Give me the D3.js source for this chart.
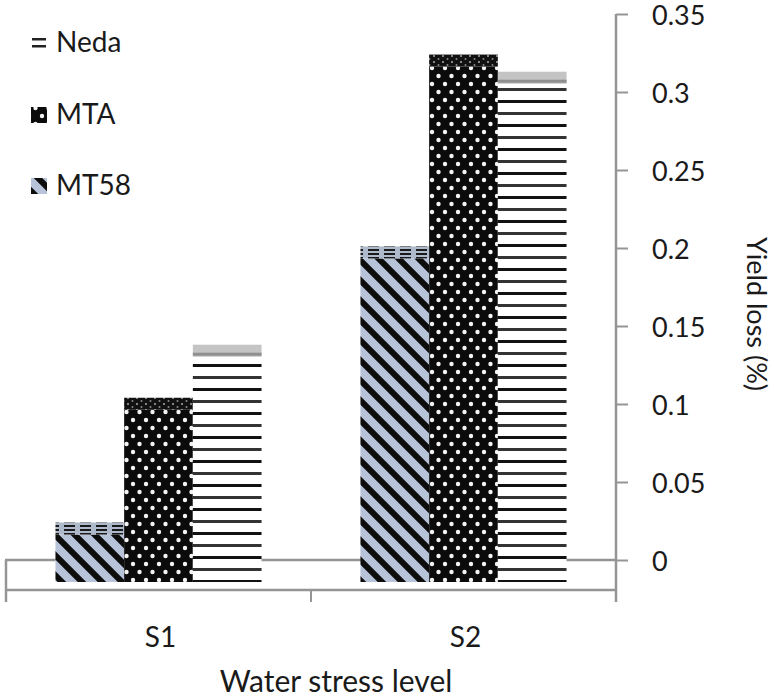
<!DOCTYPE html>
<html>
<head>
<meta charset="utf-8">
<script src="https://cdn.jsdelivr.net/npm/d3@7"></script>
<style>
  html, body { margin: 0; padding: 0; background: #fff; }
  text { font-family: Lato, "Open Sans", sans-serif; fill: #1a1a1a; }
</style>
</head>
<body>
<svg id="chart" width="774" height="698"></svg>
<script>
// ---- data ----
const categories = ["S1", "S2"];
const series = ["MT58", "MTA", "Neda"];
const mt58Values = [0.024, 0.201];
const mtaValues = [0.104, 0.324];
const nedaValues = [0.138, 0.313];
const yTicks = [0, 0.05, 0.1, 0.15, 0.2, 0.25, 0.3, 0.35];
const legendOrder = ["Neda", "MTA", "MT58"];
const xTitle = "Water stress level";
const yTitle = "Yield loss (%)";

const valuesBySeries = { MT58: mt58Values, MTA: mtaValues, Neda: nedaValues };

const svg = d3.select("#chart");
const defs = svg.append("defs");

// ---- patterns ----
const pMT58 = defs.append("pattern").attr("id", "pMT58").attr("patternUnits", "userSpaceOnUse")
  .attr("width", 20).attr("height", 20);
pMT58.append("rect").attr("width", 20).attr("height", 20).attr("fill", "#b7c3d9");
pMT58.append("path").attr("d", "M-5,-5 L25,25 M-5,15 L5,25 M15,-5 L25,5")
  .attr("stroke", "#0d0d0d").attr("stroke-width", 6);
const pMT58t = defs.append("pattern").attr("id", "pMT58t").attr("patternUnits", "userSpaceOnUse")
  .attr("width", 16).attr("height", 4);
pMT58t.append("rect").attr("width", 16).attr("height", 4).attr("fill", "#aeb9cc");
pMT58t.append("rect").attr("x", 0).attr("y", 1).attr("width", 11).attr("height", 2).attr("fill", "#1a1a1a");
const pMTA = defs.append("pattern").attr("id", "pMTA").attr("patternUnits", "userSpaceOnUse")
  .attr("width", 13).attr("height", 16);
pMTA.append("rect").attr("width", 13).attr("height", 16).attr("fill", "#0b0b0b");
pMTA.append("circle").attr("cx", 3).attr("cy", 4).attr("r", 2.2).attr("fill", "#f4f4f4");
pMTA.append("circle").attr("cx", 9.5).attr("cy", 12).attr("r", 2.2).attr("fill", "#f4f4f4");
const pMTAt = defs.append("pattern").attr("id", "pMTAt").attr("patternUnits", "userSpaceOnUse")
  .attr("width", 9).attr("height", 6);
pMTAt.append("rect").attr("width", 9).attr("height", 6).attr("fill", "#111");
pMTAt.append("circle").attr("cx", 2).attr("cy", 2).attr("r", 1).attr("fill", "#aaa");
pMTAt.append("circle").attr("cx", 6.5).attr("cy", 5).attr("r", 1).attr("fill", "#888");
const pNeda = defs.append("pattern").attr("id", "pNeda").attr("patternUnits", "userSpaceOnUse")
  .attr("width", 20).attr("height", 24);
pNeda.append("rect").attr("width", 20).attr("height", 24).attr("fill", "#fff");
pNeda.append("rect").attr("y", 4).attr("width", 20).attr("height", 3).attr("fill", "#111");
pNeda.append("rect").attr("y", 16).attr("width", 20).attr("height", 3).attr("fill", "#333");

const frontFill = { MT58: "url(#pMT58)", MTA: "url(#pMTA)", Neda: "url(#pNeda)" };
const topFill = { MT58: "url(#pMT58t)", MTA: "url(#pMTAt)", Neda: "#c4c4c4" };

// ---- scales ----
const y = d3.scaleLinear().domain([0, 0.35]).range([560, 14]);
const x0 = d3.scaleBand().domain(categories).range([6, 616]).paddingInner(0).paddingOuter(0);
const x1 = d3.scaleBand().domain(series).range([0, x0.bandwidth()]).paddingInner(0).paddingOuter(0.72);

const depth = 12;
const floorFront = 22;
const floorBottom = 30;
const gray = "#959595";

// ---- floor ----
const floor = svg.append("g");
floor.append("line").attr("x1", 5).attr("x2", 616).attr("y1", y(0)).attr("y2", y(0))
  .attr("stroke", gray).attr("stroke-width", 2.5);
floor.append("line").attr("x1", 5).attr("x2", 616).attr("y1", y(0) + floorBottom).attr("y2", y(0) + floorBottom)
  .attr("stroke", gray).attr("stroke-width", 2.5);
floor.append("line").attr("x1", 6).attr("x2", 6).attr("y1", y(0)).attr("y2", y(0) + floorBottom + 12)
  .attr("stroke", gray).attr("stroke-width", 2.5);

const xBoundaries = [x0.range()[0], ...categories.map(c => x0(c) + x0.bandwidth())];
floor.selectAll("line.xt").data(xBoundaries).enter().append("line")
  .attr("class", "xt")
  .attr("x1", d => d).attr("x2", d => d)
  .attr("y1", y(0) + floorBottom).attr("y2", y(0) + floorBottom + 12)
  .attr("stroke", gray).attr("stroke-width", 2);

// ---- bars ----
const barData = [];
categories.forEach((c, i) => {
  series.forEach(s => barData.push({ cat: c, s: s, v: valuesBySeries[s][i] }));
});

const bars = svg.append("g");
const bg = bars.selectAll("g.bar").data(barData).enter().append("g").attr("class", "bar");
bg.append("rect")
  .attr("x", d => x0(d.cat) + x1(d.s))
  .attr("width", x1.bandwidth())
  .attr("y", d => y(d.v) + depth)
  .attr("height", d => (y(0) + floorFront) - (y(d.v) + depth))
  .attr("fill", d => frontFill[d.s]);
bg.append("rect")
  .attr("x", d => x0(d.cat) + x1(d.s))
  .attr("width", x1.bandwidth())
  .attr("y", d => y(d.v))
  .attr("height", depth)
  .attr("fill", d => topFill[d.s]);
bg.filter(d => d.s === "Neda").append("rect")
  .attr("x", d => x0(d.cat) + x1(d.s))
  .attr("width", x1.bandwidth())
  .attr("y", d => y(d.v) + 8)
  .attr("height", 3)
  .attr("fill", "#8f8f8f");

// ---- y axis (right side) ----
const yAxis = d3.axisRight(y).tickValues(yTicks).tickSize(12).tickPadding(24)
  .tickFormat(d => String(+d.toFixed(2)));
const ya = svg.append("g").attr("transform", "translate(616,0)").call(yAxis);
ya.select(".domain").remove();
ya.selectAll(".tick line").attr("stroke", gray).attr("stroke-width", 2);
ya.selectAll(".tick text").attr("font-size", 27).attr("dy", "0.4em").attr("fill", "#1a1a1a")
  .style("font-family", "Lato, 'Open Sans', sans-serif");
svg.append("line").attr("x1", 616).attr("x2", 616).attr("y1", y(0.35)).attr("y2", y(0) + floorBottom + 12)
  .attr("stroke", gray).attr("stroke-width", 2.5);

// ---- category labels ----
svg.selectAll("text.cat").data(categories).enter().append("text")
  .attr("class", "cat")
  .attr("x", d => x0(d) + x0.bandwidth() / 2 + 2)
  .attr("y", 647)
  .attr("text-anchor", "middle")
  .attr("font-size", 28)
  .text(d => d);

// ---- axis titles ----
svg.append("text").attr("x", 336).attr("y", 692).attr("text-anchor", "middle")
  .attr("font-size", 30).text(xTitle);
svg.append("text").attr("transform", "translate(747,314) rotate(90)")
  .attr("text-anchor", "middle").attr("font-size", 27).text(yTitle);

// ---- legend ----
const legend = svg.append("g");
const legendY = { Neda: 52, MTA: 124, MT58: 195 };
legendOrder.forEach(s => {
  const base = legendY[s];
  if (s === "Neda") {
    legend.append("rect").attr("x", 32).attr("y", base - 14).attr("width", 14).attr("height", 2.5).attr("fill", "#222");
    legend.append("rect").attr("x", 32).attr("y", base - 7).attr("width", 14).attr("height", 2.5).attr("fill", "#222");
  } else {
    legend.append("rect").attr("x", 31).attr("y", base - 17).attr("width", 16).attr("height", 16)
      .attr("fill", frontFill[s]);
  }
  legend.append("text").attr("x", 56).attr("y", base).attr("font-size", 28).text(s);
});
</script>
</body>
</html>
